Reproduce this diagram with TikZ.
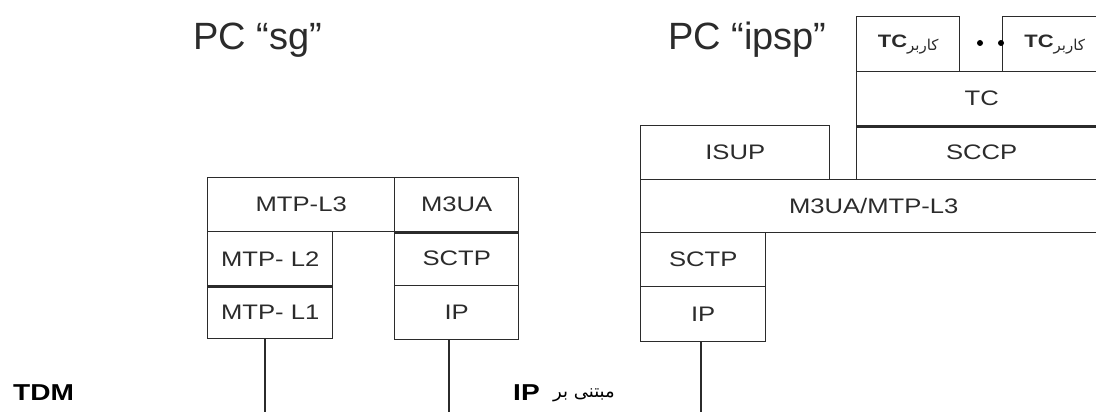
\documentclass[tikz,border=0pt]{standalone}
\usepackage{fontspec}
\setmainfont{Liberation Sans}[FakeStretch=1.22]
\newfontfamily\titlefont{Liberation Sans}
\newfontfamily\arabicfont[Script=Arabic]{DejaVu Sans}
\TeXXeTstate=1
\definecolor{ink}{HTML}{2B2B2B}
\tikzset{
	layer/.style={draw=ink, line width=1.4pt, anchor=north west, inner sep=0pt,
		text=ink, font=\fontsize{21}{25}\selectfont},
	heavy/.style={draw=ink, line width=3pt},
	link/.style={draw=ink, line width=1.6pt},
	pctitle/.style={anchor=base west, inner sep=0pt, text=ink, font=\titlefont\fontsize{38}{42}\selectfont},
	netname/.style={anchor=base west, inner sep=0pt, text=black, font=\bfseries\fontsize{23}{26}\selectfont},
	dot/.style={circle, fill=black, inner sep=0pt, minimum size=6pt}
}
\newcommand{\tcuser}{\textbf{\fontsize{18}{20}\selectfont TC}\raisebox{-3pt}{\arabicfont\fontsize{15}{17}\selectfont\beginR کاربر\endR}}
\begin{document}
	\begin{tikzpicture}[x=1pt, y=-1pt]
		\useasboundingbox (0,0) rectangle (1096,412);
		% titles
		\node[pctitle] (sgtitle) at (193,50) {PC “sg”};
		\node[pctitle] (ipsptitle) at (668,50) {PC “ipsp”};
		% sg stack
		\node[layer, minimum width=187pt, minimum height=54pt] (mtpthree) at (207,177) {MTP-L3};
		\node[layer, minimum width=124pt, minimum height=54pt] (mthreeua) at (394,177) {M3UA};
		\node[layer, minimum width=125pt, minimum height=54pt] (mtptwo) at (207,231) {MTP- L2};
		\node[layer, minimum width=125pt, minimum height=53pt] (mtpone) at (207,285) {MTP- L1};
		\node[layer, minimum width=124pt, minimum height=54pt] (sgsctp) at (394,231) {SCTP};
		\node[layer, minimum width=124pt, minimum height=54pt] (sgip) at (394,285) {IP};
		\draw[heavy] (mthreeua.south west) -- (mthreeua.south east);
		\draw[heavy] (mtptwo.south west) -- (mtptwo.south east);
		% ipsp stack
		\node[layer, minimum width=103pt, minimum height=55pt] (userone) at (856,16) {\tcuser};
		\node[layer, minimum width=104pt, minimum height=55pt] (usertwo) at (1002,16) {\tcuser};
		\node[layer, minimum width=250pt, minimum height=54pt] (tc) at (856,71) {TC};
		\node[layer, minimum width=250pt, minimum height=54pt] (sccp) at (856,125) {SCCP};
		\node[layer, minimum width=189pt, minimum height=54pt] (isup) at (640,125) {ISUP};
		\node[layer, minimum width=466pt, minimum height=53pt] (mthreeuamtp) at (640,179) {M3UA/MTP-L3};
		\node[layer, minimum width=125pt, minimum height=54pt] (ipspsctp) at (640,232) {SCTP};
		\node[layer, minimum width=125pt, minimum height=55pt] (ipspip) at (640,286) {IP};
		\draw[heavy] (tc.south west) -- (tc.south east);
		\node[dot] (dotone) at (980,43) {};
		\node[dot] (dottwo) at (1001,43) {};
		% networks
		\node[netname] (tdm) at (13,400) {TDM};
		\node[netname] (ipnet) at (513,400) {IP};
		\node[anchor=base west, inner sep=0pt, font=\arabicfont\fontsize{18}{20}\selectfont] (ipbased) at (553,397) {\beginR مبتنی بر\endR};
		\draw[link] ([xshift=-5pt]mtpone.south) -- ([xshift=-5pt]mtpone.south |- 0,412);
		\draw[link] ([xshift=-8pt]sgip.south) -- ([xshift=-8pt]sgip.south |- 0,412);
		\draw[link] ([xshift=-2pt]ipspip.south) -- ([xshift=-2pt]ipspip.south |- 0,412);
	\end{tikzpicture}
\end{document}
